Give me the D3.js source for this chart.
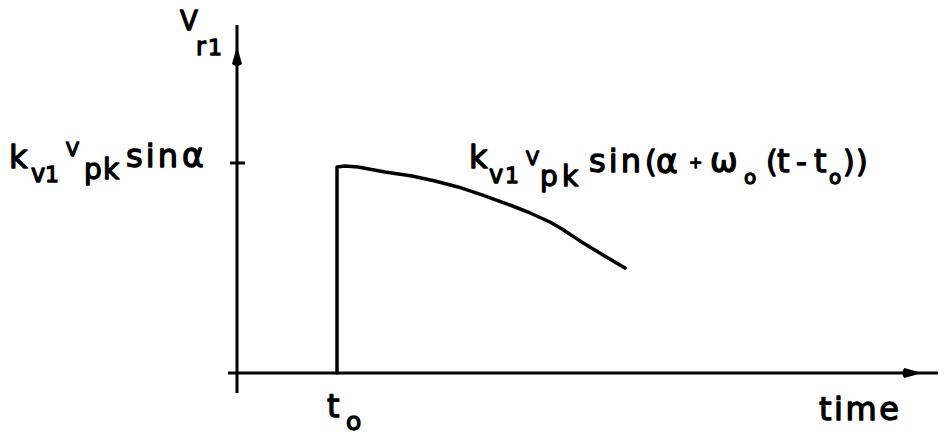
<!DOCTYPE html>
<html>
<head>
<meta charset="utf-8">
<script src="https://cdn.jsdelivr.net/npm/d3@7"></script>
<style>
  html, body { margin: 0; padding: 0; background: #fff; }
  svg text { font-family: "DejaVu Sans", sans-serif; fill: #000; stroke: #000; stroke-width: 1.3px; stroke-linejoin: round; }
</style>
</head>
<body>
<svg id="chart" width="944" height="440"></svg>
<script>
// time axis (arbitrary units), t0 = switching instant
var t0 = 3;
// Vr1 trace: step at t0 then a slowly falling sine arc
var timeVals = [3.0, 3.0, 3.24, 3.63, 4.44, 5.25, 5.94, 6.63, 7.35, 8.19, 8.79, 9.39, 9.75, 10.29, 10.98, 11.64];
var vr1Vals  = [0, 0.981, 0.986, 0.981, 0.957, 0.938, 0.914, 0.886, 0.848, 0.800, 0.762, 0.719, 0.686, 0.629, 0.562, 0.500];
// level marked on the vertical axis: kv1*Vpk*sin(alpha)
var tickVals = [1];
var xExtent = [-0.27, 21.03];
var yExtent = [-0.095, 1.657];

var svg = d3.select('#chart');
var x = d3.scaleLinear().domain([0, 21]).range([237, 937]);
var y = d3.scaleLinear().domain([0, 1]).range([373, 163]);

svg.append('rect').attr('width', 944).attr('height', 440).attr('fill', '#fff');

// axes
var axes = svg.append('g').attr('stroke', '#000').attr('stroke-width', 3).attr('fill', 'none');
axes.append('line')
    .attr('x1', x(0)).attr('x2', x(0))
    .attr('y1', y(yExtent[0])).attr('y2', y(yExtent[1]));
axes.append('line')
    .attr('x1', x(xExtent[0])).attr('x2', x(xExtent[1]))
    .attr('y1', y(0)).attr('y2', y(0));
axes.selectAll('line.tick').data(tickVals).enter().append('line')
    .attr('class', 'tick')
    .attr('x1', x(0) - 7).attr('x2', x(0) + 8)
    .attr('y1', function(d) { return y(d); })
    .attr('y2', function(d) { return y(d); });

// arrow heads sit part way along each axis
var ay = y(1.50), ax = x(20.2);
svg.append('path')
    .attr('d', 'M' + x(0) + ',' + (ay - 12) + 'L' + (x(0) + 5) + ',' + (ay + 6) + 'Q' + x(0) + ',' + (ay + 10) + ' ' + (x(0) - 5) + ',' + (ay + 6) + 'Z')
    .attr('fill', '#000');
svg.append('path')
    .attr('d', 'M' + (ax + 12) + ',' + y(0) + 'L' + (ax - 6) + ',' + (y(0) - 5) + 'Q' + (ax - 10) + ',' + y(0) + ' ' + (ax - 6) + ',' + (y(0) + 5) + 'Z')
    .attr('fill', '#000');

// the trace
var line = d3.line()
    .x(function(d) { return x(d[0]); })
    .y(function(d) { return y(d[1]); })
    .curve(d3.curveLinear);
svg.append('path')
    .datum(d3.zip(timeVals, vr1Vals))
    .attr('d', line)
    .attr('fill', 'none')
    .attr('stroke', '#000')
    .attr('stroke-width', 3.5)
    .attr('stroke-linejoin', 'round')
    .attr('stroke-linecap', 'round');

// lettering: each piece placed with its own size (w = forced width, optional)
function letter(g, segs) {
    var t = g.selectAll('text').data(segs).enter().append('text')
        .attr('x', function(d) { return d.x; })
        .attr('y', function(d) { return d.y; })
        .attr('font-size', function(d) { return d.s; })
        .text(function(d) { return d.t; });
    t.filter(function(d) { return d.w; })
        .attr('textLength', function(d) { return d.w; })
        .attr('lengthAdjust', 'spacing');
}

letter(svg.append('g'), [
    {t: 'V', x: 180, y: 30, s: 26},
    {t: 'r', x: 196, y: 55, s: 24},
    {t: '1', x: 208, y: 55, s: 22}
]);

letter(svg.append('g'), [
    {t: 'k', x: 9, y: 168, s: 32},
    {t: 'v', x: 31, y: 182, s: 24},
    {t: '1', x: 45, y: 182, s: 22},
    {t: 'V', x: 66, y: 156, s: 19},
    {t: 'p', x: 84, y: 179, s: 28},
    {t: 'k', x: 103, y: 179, s: 28},
    {t: 'sin', x: 126, y: 167, s: 32, w: 52},
    {t: 'α', x: 182, y: 167, s: 33}
]);

letter(svg.append('g'), [
    {t: 'k', x: 469, y: 168, s: 32},
    {t: 'v', x: 489, y: 183, s: 24},
    {t: '1', x: 505, y: 183, s: 22},
    {t: 'V', x: 526, y: 165, s: 19},
    {t: 'p', x: 540, y: 186, s: 28},
    {t: 'k', x: 562, y: 186, s: 28},
    {t: 'sin', x: 589, y: 172, s: 32, w: 52},
    {t: '(', x: 645, y: 172, s: 30},
    {t: 'α', x: 656, y: 173, s: 33},
    {t: '+', x: 689, y: 168, s: 16},
    {t: 'ω', x: 710, y: 172, s: 33},
    {t: 'o', x: 744, y: 184, s: 20},
    {t: '(', x: 766, y: 172, s: 30},
    {t: 't', x: 777, y: 172, s: 32},
    {t: '-', x: 796, y: 172, s: 30},
    {t: 't', x: 814, y: 172, s: 32},
    {t: 'o', x: 829, y: 184, s: 20},
    {t: ')', x: 843, y: 172, s: 30},
    {t: ')', x: 856, y: 172, s: 30}
]);

letter(svg.append('g'), [
    {t: 't', x: x(t0) - 10, y: 417, s: 32},
    {t: 'o', x: x(t0) + 9, y: 430, s: 25},
    {t: 'time', x: 819, y: 420, s: 32, w: 80}
]);
</script>
</body>
</html>
